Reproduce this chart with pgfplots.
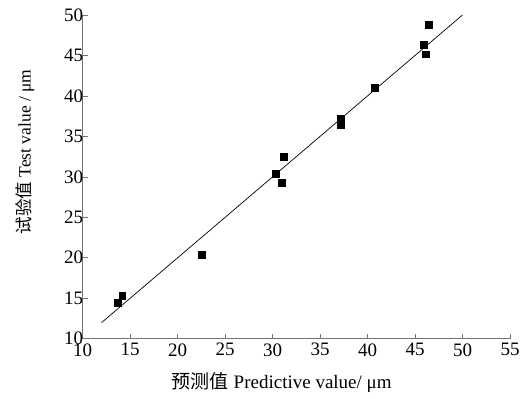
\documentclass[border=0pt]{standalone}
\usepackage{fontspec}
\setmainfont{Liberation Serif}
\newfontfamily\cjk{Noto Sans CJK SC}
\usepackage{pgfplots}
\pgfplotsset{compat=1.18}
\usepackage{pgfplotstable}

\pgfplotstableread{
x     y
13.66 14.47
14.16 15.30
22.55 20.35
30.30 30.37
31.17 32.45
30.93 29.25
37.20 37.20
37.20 36.46
40.72 41.00
45.88 46.30
46.12 45.16
46.40 48.76
}\measured

\begin{document}
\begin{tikzpicture}
\begin{axis}[
  scale only axis,
  width=427.3bp, height=323.7bp,
  xmin=10, xmax=55, ymin=10, ymax=50,
  xtick={10,15,...,55}, ytick={10,15,...,50},
  axis lines=left,
  axis line style={-, draw=black!55, line width=0.6pt},
  tick style={draw=black!55, line width=0.6pt},
  tick align=inside,
  major tick length=5bp,
  tick label style={font=\fontsize{19bp}{19bp}\selectfont, inner sep=1bp},
  /pgf/number format/assume math mode=true,
  xticklabel style={yshift=-3.5bp},
  yticklabel style={xshift=1.5bp},
  xlabel style={font=\fontsize{19bp}{22bp}\selectfont},
  ylabel style={font=\fontsize{17.5bp}{20bp}\selectfont},
  xlabel={{\cjk 预测值} Predictive value/ μm},
  ylabel={{\cjk 试验值} Test value / μm},
  xlabel style={at={(axis description cs:0.466,-0.137)}, anchor=center},
  ylabel style={at={(axis description cs:-0.135,0.577)}, anchor=center, rotate=0},
  clip=false,
]
\addplot[black, line width=0.7pt] coordinates {(12,12) (50,50)};
\addplot[only marks, mark=square*, mark size=3.4bp, black] table[x=x, y=y] {\measured};
\end{axis}
\pgfresetboundingbox
\path[use as bounding box] (current axis.south west) ++(-82.7bp,-60.3bp) rectangle ([xshift=16bp,yshift=15bp]current axis.north east);
\end{tikzpicture}
\end{document}
